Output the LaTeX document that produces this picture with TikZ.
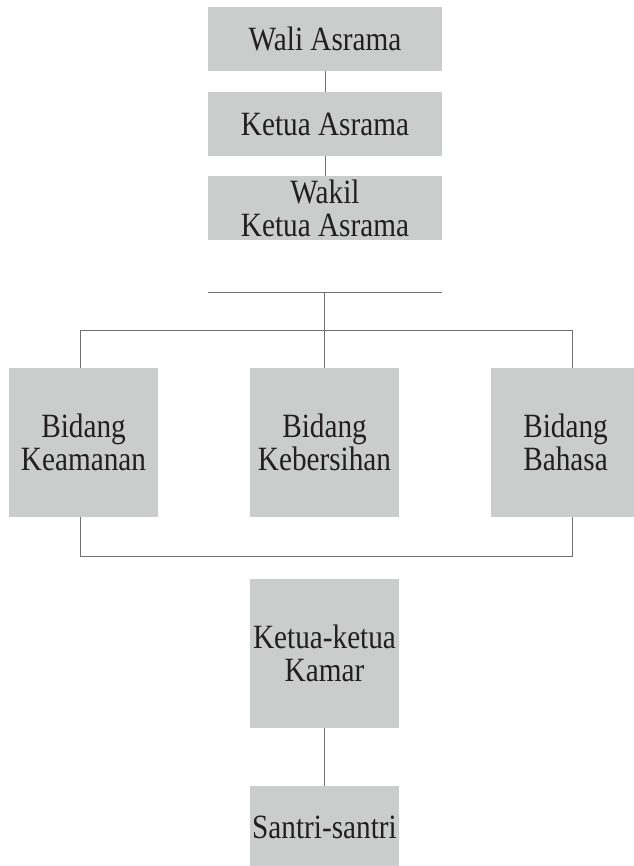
\documentclass[tikz,border=0pt]{standalone}
\usepackage{fontspec}
\setmainfont{Liberation Serif}[FakeStretch=0.86]
\definecolor{boxgray}{HTML}{CBCCCC}
\definecolor{linegray}{HTML}{707070}
\definecolor{txt}{HTML}{231F20}
\begin{document}
\begin{tikzpicture}[x=1pt,y=-1pt,
  box/.style={fill=boxgray, draw=none, inner sep=0pt, align=center, text=txt,
    font=\fontsize{34}{33}\selectfont},
  conn/.style={draw=linegray, line width=1pt}]
\useasboundingbox (0,0) rectangle (633,866);
\node[box, minimum width=234, minimum height=64] (wali) at (325,39) {Wali Asrama};
\node[box, minimum width=234, minimum height=64] (ketua) at (325,124) {Ketua Asrama};
\node[box, minimum width=234, minimum height=64] (wakil) at (325,208) {Wakil\\Ketua Asrama};
\node[box, minimum width=149, minimum height=149] (keam) at (83.5,442.5) {Bidang\\Keamanan};
\node[box, minimum width=149, minimum height=149] (keber) at (324.5,442.5) {Bidang\\Kebersihan};
\node[box, minimum width=149, minimum height=149] (bahasa) at (565.5,442.5) {Bidang\\Bahasa};
\node[box, minimum width=149, minimum height=149] (kamar) at (324.5,653.5) {Ketua-ketua\\Kamar};
\node[box, minimum width=149, minimum height=82] (santri) at (324.5,827) {Santri-santri};
\coordinate (tl) at (208,292);
\coordinate (tr) at (442,292);
\coordinate (tm) at (324,292);
\coordinate (bl) at (80,330);
\coordinate (br) at (572,330);
\coordinate (dl) at (80,556);
\coordinate (dr) at (572,556);
\draw[conn] (wali.south) -- (ketua.north);
\draw[conn] (ketua.south) -- (wakil.north);
\draw[conn] (tl) -- (tr);
\draw[conn] (tm) -- (tm |- keber.north);
\draw[conn] (keam.north -| bl) -- (bl) -- (br) -- (bahasa.north -| br);
\draw[conn] (keam.south -| dl) -- (dl) -- (dr) -- (bahasa.south -| dr);
\draw[conn] (kamar.south) -- (santri.north);
\end{tikzpicture}
\end{document}
